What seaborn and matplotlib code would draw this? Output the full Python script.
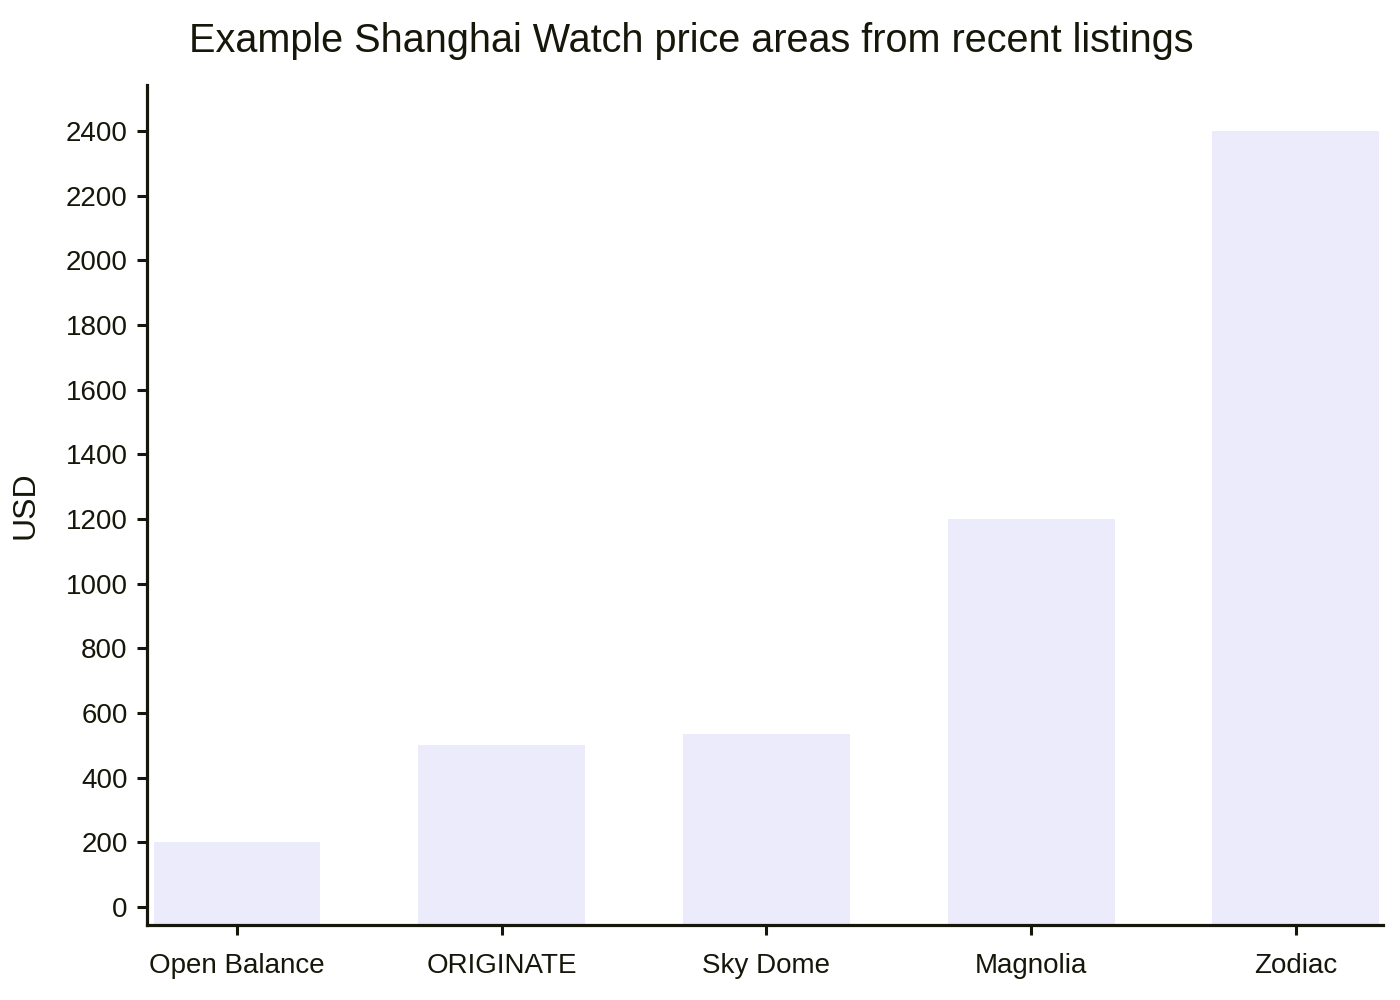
import matplotlib
matplotlib.use("Agg")
import matplotlib.pyplot as plt
import pandas as pd
import seaborn as sns

models = ["Open Balance", "ORIGINATE", "Sky Dome", "Magnolia", "Zodiac"]
prices = [200, 500, 535, 1200, 2400]
y_ticks = [0, 200, 400, 600, 800, 1000, 1200, 1400, 1600, 1800, 2000, 2200, 2400]

ink = "#16160a"
bar_color = "#EBEBFC"
y_min, y_max = -56, 2542

sns.set_theme(style="white")
plt.rcParams["font.family"] = ["Liberation Sans", "DejaVu Sans"]

df = pd.DataFrame({"model": models, "price": prices})

fig = plt.figure(figsize=(14, 10), dpi=100)
ax = fig.add_axes([0.105, 0.075, 0.883, 0.84])

sns.barplot(data=df, x="model", y="price", color=bar_color, saturation=1,
            width=0.63, ax=ax)

# bars run from the bottom of the axis, not from zero
for p in ax.patches:
    top = p.get_y() + p.get_height()
    p.set_y(y_min)
    p.set_height(top - y_min)
    p.set_edgecolor("none")

ax.set_ylim(y_min, y_max)
ax.set_xlim(-0.34, 4.33)
ax.set_yticks(y_ticks)

sns.despine(ax=ax)
for side in ["left", "bottom"]:
    ax.spines[side].set_color(ink)
    ax.spines[side].set_linewidth(2.3)

ax.tick_params(axis="both", colors=ink, labelcolor=ink, labelsize=20,
               length=7, width=2.2, direction="out", left=True, bottom=True)
ax.tick_params(axis="x", pad=13)
ax.tick_params(axis="y", pad=7)

ax.set_xlabel("")
ax.set_ylabel("USD", fontsize=23, color=ink, labelpad=18)
fig.suptitle("Example Shanghai Watch price areas from recent listings",
             fontsize=28.5, color=ink, x=0.494, y=0.978)

fig.savefig("out.png", dpi=100)
